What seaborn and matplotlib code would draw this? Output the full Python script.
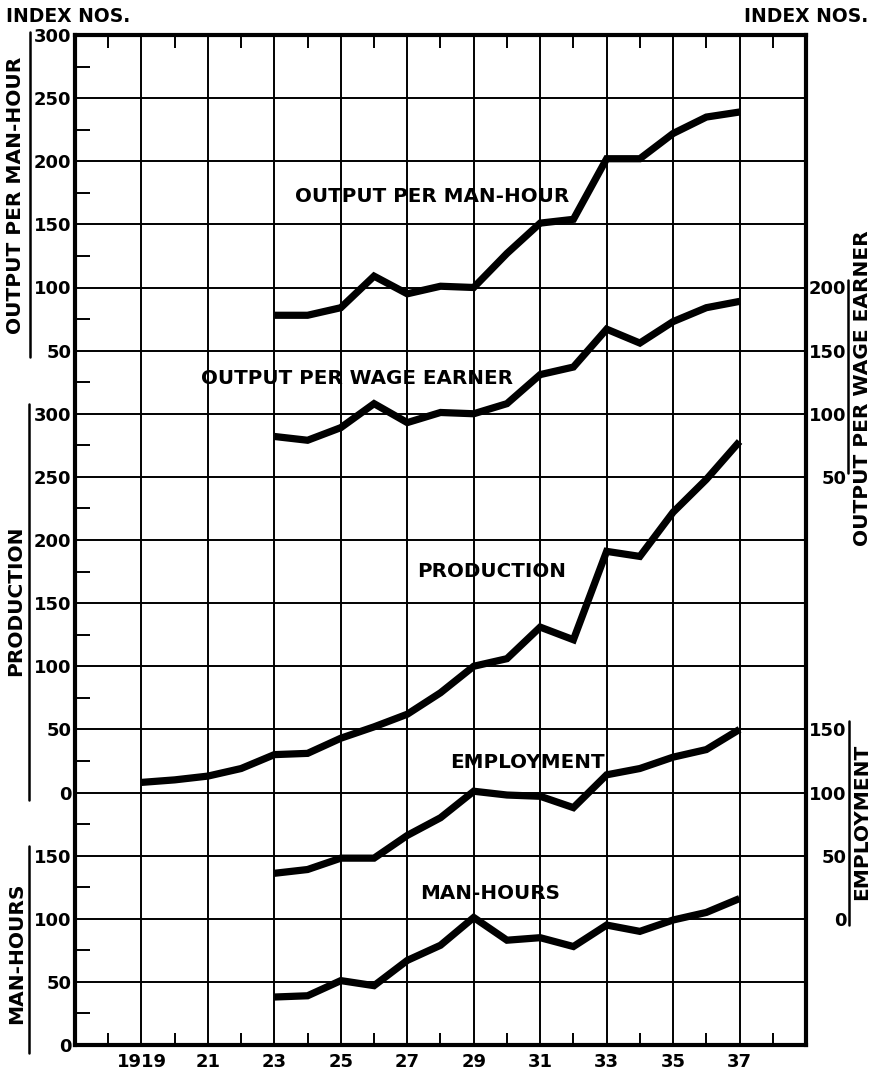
import numpy as np
import pandas as pd
import matplotlib
matplotlib.use("Agg")
import matplotlib.pyplot as plt
import seaborn as sns
from matplotlib.lines import Line2D
from matplotlib.transforms import blended_transform_factory

# ---------------------------------------------------------------- data
years_production = list(range(1919, 1938))
years_other = list(range(1923, 1938))

production = [8, 10, 13, 19, 30, 31, 43, 52, 62, 79, 100, 106, 131, 121,
              191, 187, 222, 248, 278]
output_per_man_hour = [78, 78, 84, 109, 95, 101, 100, 127, 151, 154,
                       202, 202, 222, 235, 239]
output_per_wage_earner = [82, 79, 89, 108, 93, 101, 100, 108, 131, 137,
                          167, 156, 173, 184, 189]
employment = [36, 39, 48, 48, 66, 80, 101, 98, 97, 88, 114, 119, 128, 134, 150]
man_hours = [38, 39, 51, 47, 67, 79, 101, 83, 85, 78, 95, 90, 99, 105, 116]

x_tick_years = list(range(1919, 1938, 2))
x_tick_labels = ["1919", "21", "23", "25", "27", "29", "31", "33", "35", "37"]

left_tick_labels = ["0", "50", "100", "150",                       # man-hours
                    "0", "50", "100", "150", "200", "250", "300",  # production
                    "50", "100", "150", "200", "250", "300"]       # output per man-hour
right_tick_labels = ["0", "50", "100", "150",                      # employment
                     "50", "100", "150", "200"]                    # output per wage earner

# each index scale is stacked on a common vertical axis (50 index points per grid step)
scale_base = {
    "MAN-HOURS": 0,
    "EMPLOYMENT": 100,
    "PRODUCTION": 200,
    "OUTPUT PER WAGE EARNER": 400,
    "OUTPUT PER MAN-HOUR": 500,
}

frames = []
for name, yrs, vals in [
    ("OUTPUT PER MAN-HOUR", years_other, output_per_man_hour),
    ("OUTPUT PER WAGE EARNER", years_other, output_per_wage_earner),
    ("PRODUCTION", years_production, production),
    ("EMPLOYMENT", years_other, employment),
    ("MAN-HOURS", years_other, man_hours),
]:
    frames.append(pd.DataFrame({"series": name, "year": yrs, "index": vals}))
df = pd.concat(frames, ignore_index=True)
df["level"] = df["index"] + df["series"].map(scale_base)

# ---------------------------------------------------------------- style
sns.set_theme(style="white")
plt.rcParams["font.family"] = ["DejaVu Sans"]
plt.rcParams["font.weight"] = "bold"

fig = plt.figure(figsize=(8.74, 10.72), dpi=100)
W, H = 874, 1072
ax = fig.add_axes([75 / W, 1 - 1045 / H, (806 - 75) / W, (1045 - 35) / H])

sns.lineplot(data=df, x="year", y="level", hue="series", units="series",
             estimator=None, sort=True, legend=False,
             palette={k: "black" for k in scale_base}, linewidth=5.2,
             solid_capstyle="butt", solid_joinstyle="miter", ax=ax, zorder=5)

ax.set_xlim(1917, 1939)
ax.set_ylim(0, 800)
ax.set_xlabel("")
ax.set_ylabel("")

TICK_FS = 13

# grid: horizontal every 50, vertical at odd years
ax.set_yticks(np.arange(0, 801, 50))
ax.set_yticklabels(left_tick_labels)
ax.set_xticks(x_tick_years)
ax.set_xticklabels(x_tick_labels)
ax.set_yticks(np.arange(25, 800, 50), minor=True)
ax.set_xticks(list(range(1918, 1939, 2)), minor=True)
ax.grid(True, which="major", color="black", linewidth=1.4)
ax.set_axisbelow(True)

ax.tick_params(axis="both", which="major", length=0)
ax.tick_params(axis="y", which="major", pad=2.5, labelsize=TICK_FS, labelcolor="black")
ax.tick_params(axis="x", which="major", pad=6, labelsize=TICK_FS, labelcolor="black")
ax.tick_params(axis="y", which="minor", direction="in", length=11, width=1.4,
               left=True, right=True, color="black")
ax.tick_params(axis="x", which="minor", direction="in", length=9, width=1.4,
               bottom=True, top=True, color="black")
for lab in ax.get_xticklabels() + ax.get_yticklabels():
    lab.set_fontweight("bold")

for sp in ax.spines.values():
    sp.set_visible(True)
    sp.set_color("black")
    sp.set_linewidth(3.0)

# right-hand scales
ax2 = ax.twinx()
ax2.set_ylim(0, 800)
ax2.set_yticks([100, 150, 200, 250, 450, 500, 550, 600])
ax2.set_yticklabels(right_tick_labels)
ax2.tick_params(axis="y", length=0, pad=29, labelsize=TICK_FS, labelcolor="black")
for lab in ax2.get_yticklabels():
    lab.set_horizontalalignment("right")
    lab.set_fontweight("bold")
for sp in ax2.spines.values():
    sp.set_visible(False)
ax2.grid(False)

# scale brackets and names outside the frame
tr = blended_transform_factory(fig.transFigure, ax.transData)
brackets = [
    (30, 802, 545, 16, 673, "OUTPUT PER MAN-HOUR"),
    (29, 508, 194, 16, 352, "PRODUCTION"),
    (29, 158, -6, 17, 73, "MAN-HOURS"),
    (848, 606, 453, 862, 520, "OUTPUT PER WAGE EARNER"),
    (849, 257, 95, 862, 177, "EMPLOYMENT"),
]
for xline, y0, y1, xtext, ytext, name in brackets:
    fig.add_artist(Line2D([xline / W, xline / W], [y0, y1], transform=tr,
                          color="black", linewidth=1.8))
    fig.text(xtext / W, ytext, name, transform=tr, rotation=90,
             ha="center", va="center", fontsize=14.5, fontweight="bold",
             color="black")

fig.text(6 / W, 1 - 16 / H, "INDEX NOS.", ha="left", va="center",
         fontsize=13.5, fontweight="bold", color="black")
fig.text(868 / W, 1 - 17 / H, "INDEX NOS.", ha="right", va="center",
         fontsize=13.5, fontweight="bold", color="black")

# series names inside the plot
series_labels = [
    ("OUTPUT PER MAN-HOUR", 1927.76, 672),
    ("OUTPUT PER WAGE EARNER", 1925.5, 528),
    ("PRODUCTION", 1929.55, 375),
    ("EMPLOYMENT", 1930.63, 224),
    ("MAN-HOURS", 1929.5, 120),
]
for text, xv, yv in series_labels:
    ax.text(xv, yv, text, ha="center", va="center", fontsize=14.3,
            fontweight="bold", color="black", zorder=6)

fig.savefig("out.png", dpi=100, facecolor="white")
